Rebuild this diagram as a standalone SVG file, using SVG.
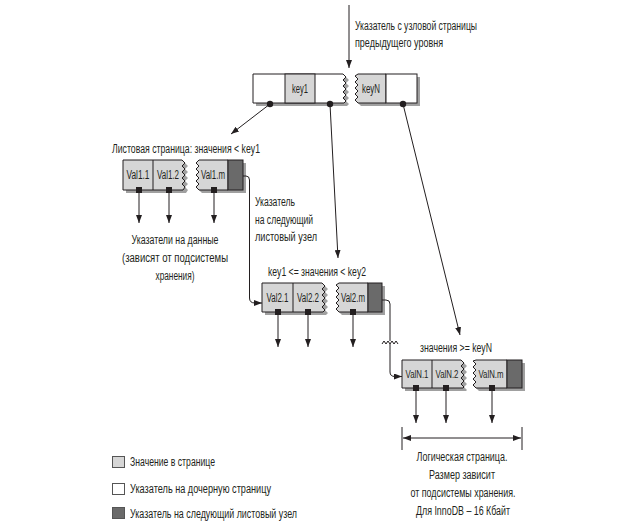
<svg xmlns="http://www.w3.org/2000/svg" width="639" height="529" viewBox="0 0 639 529">
<defs>
<marker id="ah" viewBox="0 0 8 6" refX="8" refY="3" markerWidth="8" markerHeight="6" markerUnits="userSpaceOnUse" orient="auto-start-reverse">
<path d="M0,0 L8,3 L0,6 Z" fill="#231f20"/>
</marker>
<style>
.t{font-family:"Liberation Sans",Arial,sans-serif;font-size:12.5px;fill:#231f20}
.c{font-family:"Liberation Sans",Arial,sans-serif;font-size:12px;fill:#231f20;text-anchor:middle}
.n{font-size:10.5px}
.m{text-anchor:middle}
.sh{fill:#a0a0a0;stroke:none}
.w{fill:#ffffff;stroke:#231f20;stroke-width:1}
.g{fill:#d6d6d6;stroke:#231f20;stroke-width:1}
.d{fill:#6a6a6a;stroke:#231f20;stroke-width:1}
.ln{fill:none;stroke:#231f20;stroke-width:1}
.ar{fill:none;stroke:#231f20;stroke-width:1;marker-end:url(#ah)}
</style>
</defs>

<g id="top-label">
<text class="t" x="355" y="30" textLength="122" lengthAdjust="spacingAndGlyphs">Указатель с узловой страницы</text>
<text class="t" x="355" y="47" textLength="88" lengthAdjust="spacingAndGlyphs">предыдущего уровня</text>
</g>

<g id="root">
<path class="sh" transform="translate(3,3)" d="M253,74 H343 L346,77 L343,80 L346,83 L343,86 L346,89 L343,92 L346,95 L343,98 L346,101 L344,103 H253 Z"/>
<path class="sh" transform="translate(3,3)" d="M358,74 H417 V103 H358 L355,100 L358,97 L355,94 L358,91 L355,88 L358,85 L355,82 L358,79 L355,76 Z"/>
<path class="w" d="M253,74 H343 L346,77 L343,80 L346,83 L343,86 L346,89 L343,92 L346,95 L343,98 L346,101 L344,103 H253 Z"/>
<rect class="g" x="285" y="74" width="30" height="29"/>
<path class="g" d="M358,74 H386 V103 H358 L355,100 L358,97 L355,94 L358,91 L355,88 L358,85 L355,82 L358,79 L355,76 Z"/>
<rect class="w" x="386" y="74" width="31" height="29"/>
<text class="c" x="300" y="93" textLength="16" lengthAdjust="spacingAndGlyphs">key1</text>
<text class="c" x="371" y="93" textLength="18" lengthAdjust="spacingAndGlyphs">keyN</text>
<circle cx="270" cy="104" r="3.2" fill="#231f20"/>
<circle cx="330" cy="104" r="3.2" fill="#231f20"/>
<circle cx="403" cy="104" r="3.2" fill="#231f20"/>
</g>

<g id="leaf1">
<text class="t" x="112" y="153" textLength="148" lengthAdjust="spacingAndGlyphs">Листовая страница: значения &lt; key1</text>
<path class="sh" transform="translate(3,3)" d="M123,160 H182 L185,163 L182,166 L185,169 L182,172 L185,175 L182,178 L185,181 L182,184 L185,187 L183,190 H123 Z"/>
<path class="sh" transform="translate(3,3)" d="M199,160 H243 V190 H199 L196,187 L199,184 L196,181 L199,178 L196,175 L199,172 L196,169 L199,166 L196,163 Z"/>
<path class="g" d="M123,160 H182 L185,163 L182,166 L185,169 L182,172 L185,175 L182,178 L185,181 L182,184 L185,187 L183,190 H123 Z"/>
<line class="ln" x1="153" y1="160" x2="153" y2="190"/>
<path class="g" d="M199,160 H228 V190 H199 L196,187 L199,184 L196,181 L199,178 L196,175 L199,172 L196,169 L199,166 L196,163 Z"/>
<rect class="d" x="228" y="160" width="15" height="30"/>
<text class="c" x="138" y="179" textLength="23" lengthAdjust="spacingAndGlyphs">Val1.1</text>
<text class="c" x="168" y="179" textLength="22" lengthAdjust="spacingAndGlyphs">Val1.2</text>
<text class="c" x="213" y="179" textLength="24" lengthAdjust="spacingAndGlyphs">Val1.m</text>
<rect x="136" y="187" width="6" height="6" fill="#231f20"/>
<rect x="166" y="187" width="6" height="6" fill="#231f20"/>
<rect x="211" y="187" width="6" height="6" fill="#231f20"/>
<text class="t m" x="175" y="244" textLength="87" lengthAdjust="spacingAndGlyphs">Указатели на данные</text>
<text class="t m" x="175" y="262" textLength="106" lengthAdjust="spacingAndGlyphs">(зависят от подсистемы</text>
<text class="t m" x="175" y="280" textLength="39" lengthAdjust="spacingAndGlyphs">хранения)</text>
</g>

<g id="next-label">
<text class="t" x="255" y="206" textLength="40" lengthAdjust="spacingAndGlyphs">Указатель</text>
<text class="t" x="255" y="224" textLength="58" lengthAdjust="spacingAndGlyphs">на следующий</text>
<text class="t" x="255" y="241" textLength="62" lengthAdjust="spacingAndGlyphs">листовый узел</text>
</g>

<g id="leaf2">
<text class="t" x="268" y="276" textLength="98" lengthAdjust="spacingAndGlyphs">key1 &lt;= значения &lt; key2</text>
<path class="sh" transform="translate(3,3)" d="M262,283 H322 L325,286 L322,289 L325,292 L322,295 L325,298 L322,301 L325,304 L322,307 L325,310 L323,312 H262 Z"/>
<path class="sh" transform="translate(3,3)" d="M339,283 H382 V312 H339 L336,309 L339,306 L336,303 L339,300 L336,297 L339,294 L336,291 L339,288 L336,285 Z"/>
<path class="g" d="M262,283 H322 L325,286 L322,289 L325,292 L322,295 L325,298 L322,301 L325,304 L322,307 L325,310 L323,312 H262 Z"/>
<line class="ln" x1="293" y1="283" x2="293" y2="312"/>
<path class="g" d="M339,283 H368 V312 H339 L336,309 L339,306 L336,303 L339,300 L336,297 L339,294 L336,291 L339,288 L336,285 Z"/>
<rect class="d" x="368" y="283" width="14" height="29"/>
<text class="c" x="277.5" y="302" textLength="22" lengthAdjust="spacingAndGlyphs">Val2.1</text>
<text class="c" x="308" y="302" textLength="22" lengthAdjust="spacingAndGlyphs">Val2.2</text>
<text class="c" x="353" y="302" textLength="24" lengthAdjust="spacingAndGlyphs">Val2.m</text>
<rect x="275" y="309" width="6" height="6" fill="#231f20"/>
<rect x="305" y="309" width="6" height="6" fill="#231f20"/>
<rect x="350" y="309" width="6" height="6" fill="#231f20"/>
</g>

<g id="leaf3">
<text class="t" x="420" y="352" textLength="72" lengthAdjust="spacingAndGlyphs">значения &gt;= keyN</text>
<path class="sh" transform="translate(3,3)" d="M402,360 H461 L464,363 L461,366 L464,369 L461,372 L464,375 L461,378 L464,381 L461,384 L464,387 L463,388 H402 Z"/>
<path class="sh" transform="translate(3,3)" d="M476,360 H522 V388 H476 L473,385 L476,382 L473,379 L476,376 L473,373 L476,370 L473,367 L476,364 L473,361 Z"/>
<path class="g" d="M402,360 H461 L464,363 L461,366 L464,369 L461,372 L464,375 L461,378 L464,381 L461,384 L464,387 L463,388 H402 Z"/>
<line class="ln" x1="432" y1="360" x2="432" y2="388"/>
<path class="g" d="M476,360 H507 V388 H476 L473,385 L476,382 L473,379 L476,376 L473,373 L476,370 L473,367 L476,364 L473,361 Z"/>
<rect class="d" x="507" y="360" width="15" height="28"/>
<text class="c n" x="417" y="378" textLength="23" lengthAdjust="spacingAndGlyphs">ValN.1</text>
<text class="c n" x="447" y="378" textLength="23" lengthAdjust="spacingAndGlyphs">ValN.2</text>
<text class="c n" x="491" y="378" textLength="25" lengthAdjust="spacingAndGlyphs">ValN.m</text>
<rect x="413" y="385" width="6" height="6" fill="#231f20"/>
<rect x="443" y="385" width="6" height="6" fill="#231f20"/>
<rect x="489" y="385" width="6" height="6" fill="#231f20"/>
</g>

<g id="page-size">
<line class="ln" x1="402" y1="427" x2="402" y2="450"/>
<line class="ln" x1="522" y1="427" x2="522" y2="450"/>
<line class="ln" x1="403" y1="438" x2="521" y2="438" marker-start="url(#ah)" marker-end="url(#ah)"/>
<text class="t m" x="462" y="461" textLength="91" lengthAdjust="spacingAndGlyphs">Логическая страница.</text>
<text class="t m" x="462" y="479" textLength="66" lengthAdjust="spacingAndGlyphs">Размер зависит</text>
<text class="t m" x="463" y="497" textLength="105" lengthAdjust="spacingAndGlyphs">от подсистемы хранения.</text>
<text class="t m" x="463" y="515" textLength="94" lengthAdjust="spacingAndGlyphs">Для InnoDB – 16 Кбайт</text>
</g>

<g id="legend">
<rect x="112.5" y="456.5" width="12" height="11" fill="#d6d6d6" stroke="#555"/>
<text class="t" x="130" y="466" textLength="85" lengthAdjust="spacingAndGlyphs">Значение в странице</text>
<rect x="112.5" y="483.5" width="12" height="11" fill="#ffffff" stroke="#555"/>
<text class="t" x="130" y="493" textLength="141" lengthAdjust="spacingAndGlyphs">Указатель на дочерную страницу</text>
<rect x="112.5" y="507.5" width="12" height="11" fill="#6a6a6a" stroke="#555"/>
<text class="t" x="130" y="518" textLength="167" lengthAdjust="spacingAndGlyphs">Указатель на следующий листовый узел</text>
</g>

<g id="connectors">
<line class="ar" x1="349" y1="5" x2="349" y2="68"/>
<line class="ar" x1="270" y1="104" x2="231" y2="134"/>
<line class="ar" x1="330" y1="104" x2="338" y2="258"/>
<line class="ar" x1="403" y1="104" x2="460" y2="335"/>
<line class="ar" x1="139" y1="193" x2="139" y2="223"/>
<line class="ar" x1="169" y1="193" x2="169" y2="223"/>
<line class="ar" x1="214" y1="193" x2="214" y2="223"/>
<line class="ar" x1="278" y1="315" x2="278" y2="347"/>
<line class="ar" x1="308" y1="315" x2="308" y2="347"/>
<line class="ar" x1="353" y1="315" x2="353" y2="347"/>
<line class="ar" x1="416" y1="391" x2="416" y2="423"/>
<line class="ar" x1="446" y1="391" x2="446" y2="423"/>
<line class="ar" x1="492" y1="391" x2="492" y2="423"/>
<path class="ar" d="M243,176 H246 Q249.5,176 249.5,180 V298 Q249.5,303 255,303 H262"/>
<path class="ln" d="M382,300 H386 Q390,300 390,304 V341"/>
<path class="ln" d="M382,344 L384,341 L386,344 L388,341 L390,344 L392,341 L394,344 L396,341 L398,344"/>
<path class="ar" d="M390,344 V372 Q390,376.5 395,376.5 H402"/>
</g>
</svg>
